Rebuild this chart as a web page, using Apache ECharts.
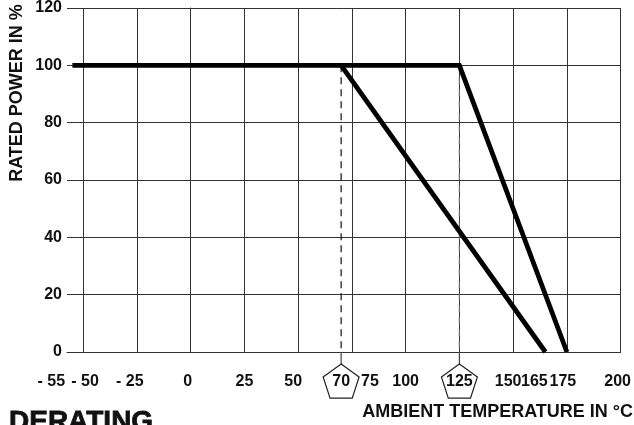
<!DOCTYPE html>
<html>
<head>
<meta charset="utf-8">
<script src="https://cdn.jsdelivr.net/npm/echarts@6/dist/echarts.min.js"></script>
<style>html,body{margin:0;padding:0;background:#fff;}#c{width:634px;height:425px;}</style>
</head>
<body>
<div id="c"></div>
<script>
// ---- data ----
var xTickLabels = [-55, -50, -25, 0, 25, 50, 70, 75, 100, 125, 150, 165, 175, 200];
var xGridValues = [-50, -25, 0, 25, 50, 75, 100, 125, 150, 175, 200];
var curveA = [[-55, 100], [125, 100], [175, 0]];
var curveB = [[70, 100], [165, 0]];
var markedTemps = [70, 125];
var yTicks = [0, 20, 40, 60, 80, 100, 120];

// ---- styling (pixel nudges for label placement) ----
var labelNudge = {'-55': -21, '-50': 2, '-25': -7, '0': -3, '25': 0, '50': -5, '70': 0, '75': 18,
  '100': 0, '125': 0, '150': -5, '165': -11, '175': -4, '200': -3};

var FONT = '"Liberation Sans", Arial, Helvetica, sans-serif';
var rich = {};
xTickLabels.forEach(function (v, i) {
  var n = labelNudge[String(v)] || 0;
  rich['l' + i] = {
    fontFamily: FONT, fontWeight: 'bold', fontSize: 16, color: '#111',
    padding: n >= 0 ? [0, 0, 0, 2 * n] : [0, -2 * n, 0, 0]
  };
});

var chart = echarts.init(document.getElementById('c'), null, {renderer: 'canvas'});
chart.setOption({
  animation: false,
  backgroundColor: '#fff',
  grid: {left: 67, right: 13, top: 4, bottom: 73, containLabel: false},
  xAxis: {
    type: 'value', min: -57.5, max: 200,
    axisLine: {show: true, onZero: false, lineStyle: {color: '#333', width: 1}},
    axisTick: {show: false, customValues: xGridValues},
    splitLine: {show: true, lineStyle: {color: '#333', width: 1}},
    axisLabel: {
      customValues: xTickLabels, margin: 22,
      formatter: function (v) {
        var i = xTickLabels.indexOf(v);
        var txt = v < 0 ? '- ' + (-v) : String(v);
        return '{l' + i + '|' + txt + '}';
      },
      rich: rich
    }
  },
  yAxis: {
    type: 'value', min: 0, max: 120, interval: 20,
    axisLine: {show: true, lineStyle: {color: '#333', width: 1}},
    axisTick: {show: false},
    splitLine: {show: true, lineStyle: {color: '#333', width: 1}},
    axisLabel: {margin: 5, fontFamily: FONT, fontWeight: 'bold', fontSize: 16, color: '#111',
      formatter: function (v) { return yTicks.indexOf(v) >= 0 ? String(v) : ''; }}
  },
  graphic: [
    {type: 'text', x: 17, y: 93, rotation: Math.PI / 2,
      style: {text: 'RATED POWER IN %', font: 'bold 18px ' + FONT, fill: '#111', align: 'center', verticalAlign: 'middle'}},
    {type: 'text', x: 633, y: 412,
      style: {text: 'AMBIENT TEMPERATURE IN °C', font: 'bold 18px ' + FONT, fill: '#111', align: 'right', verticalAlign: 'middle'}},
    {type: 'text', x: 9, y: 408,
      style: {text: 'DERATING', font: 'bold 28px ' + FONT, fill: '#111', align: 'left', verticalAlign: 'top',
        stroke: '#111', lineWidth: 0.8}}
  ],
  series: [
    {type: 'line', data: [[markedTemps[0], 100], [markedTemps[0], 0]], symbol: 'none', silent: true,
      lineStyle: {color: '#111', width: 1.2, type: [7, 5]}, z: 3},
    {type: 'line', data: [[markedTemps[1], 100], [markedTemps[1], 0]], symbol: 'none', silent: true,
      lineStyle: {color: '#666', width: 1.2, type: [7, 5]}, z: 3},
    {type: 'line', data: curveA, symbol: 'none', lineStyle: {color: '#000', width: 4.8, join: 'miter'}, z: 5},
    {type: 'line', data: curveB, symbol: 'none', lineStyle: {color: '#000', width: 4.8, join: 'miter'}, z: 5},
    {type: 'custom', clip: false, silent: true, z: 4,
      data: markedTemps.map(function (t) { return [t, 0]; }),
      renderItem: function (params, api) {
        var p = api.coord([api.value(0), api.value(1)]);
        var cx = p[0], top = p[1] + 12, R = 18.9;
        var cy = top + R, pts = [];
        for (var k = 0; k < 5; k++) {
          var a = -Math.PI / 2 + k * 2 * Math.PI / 5;
          pts.push([cx + R * Math.cos(a), cy + R * Math.sin(a)]);
        }
        return {type: 'group', children: [
          {type: 'line', shape: {x1: cx, y1: p[1], x2: cx, y2: top}, style: {stroke: '#444', lineWidth: 1.2}},
          {type: 'polygon', shape: {points: pts}, style: {fill: 'none', stroke: '#222', lineWidth: 1.2}}
        ]};
      }
    }
  ]
});
</script>
</body>
</html>
